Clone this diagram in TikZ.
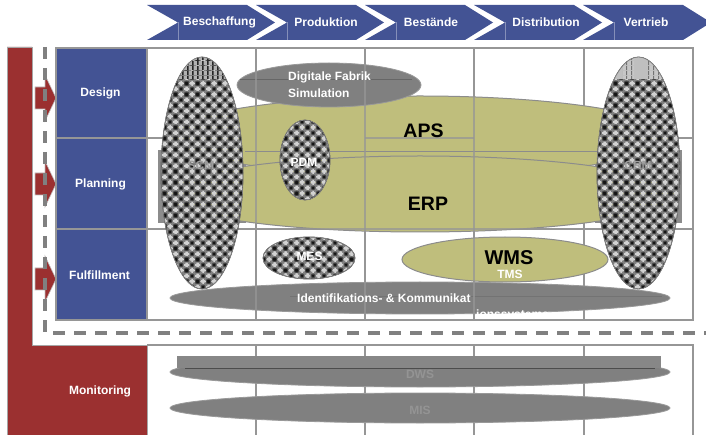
\documentclass[tikz,border=0pt]{standalone}
\usepackage{fontspec}
\setmainfont{Liberation Sans}
\usetikzlibrary{patterns}
\definecolor{cblue}{RGB}{67,83,148}
\definecolor{cred}{RGB}{155,48,48}
\definecolor{cyel}{RGB}{191,190,124}
\definecolor{gline}{RGB}{150,150,150}
\definecolor{gfill}{RGB}{128,128,128}
\definecolor{patbg}{RGB}{128,128,128}
\definecolor{pathalo}{RGB}{75,75,75}
\definecolor{patdark}{RGB}{20,20,20}
\definecolor{patlight}{RGB}{210,210,210}
\pgfdeclarepatterninherentlycolored{dotcross}{\pgfpointorigin}{\pgfpoint{11pt}{11pt}}{\pgfpoint{11pt}{11pt}}{%
  \pgfsetfillcolor{patbg}%
  \pgfpathrectangle{\pgfpointorigin}{\pgfpoint{11pt}{11pt}}\pgfusepath{fill}%
  \pgfsetfillcolor{patlight}%
  \pgfpathrectangle{\pgfpoint{3pt}{-0.9pt}}{\pgfpoint{5pt}{1.8pt}}%
  \pgfpathrectangle{\pgfpoint{4.6pt}{-2.5pt}}{\pgfpoint{1.8pt}{5pt}}%
  \pgfpathrectangle{\pgfpoint{3pt}{10.1pt}}{\pgfpoint{5pt}{1.8pt}}%
  \pgfpathrectangle{\pgfpoint{4.6pt}{8.5pt}}{\pgfpoint{1.8pt}{5pt}}%
  \pgfpathrectangle{\pgfpoint{-2.5pt}{4.6pt}}{\pgfpoint{5pt}{1.8pt}}%
  \pgfpathrectangle{\pgfpoint{-0.9pt}{3pt}}{\pgfpoint{1.8pt}{5pt}}%
  \pgfpathrectangle{\pgfpoint{8.5pt}{4.6pt}}{\pgfpoint{5pt}{1.8pt}}%
  \pgfpathrectangle{\pgfpoint{10.1pt}{3pt}}{\pgfpoint{1.8pt}{5pt}}%
  \pgfusepath{fill}%
  \pgfsetfillcolor{pathalo}%
  \pgfpathcircle{\pgfpoint{0pt}{0pt}}{2.6pt}\pgfpathcircle{\pgfpoint{11pt}{0pt}}{2.6pt}%
  \pgfpathcircle{\pgfpoint{0pt}{11pt}}{2.6pt}\pgfpathcircle{\pgfpoint{11pt}{11pt}}{2.6pt}%
  \pgfpathcircle{\pgfpoint{5.5pt}{5.5pt}}{2.6pt}\pgfusepath{fill}%
  \pgfsetfillcolor{patdark}%
  \pgfpathcircle{\pgfpoint{0pt}{0pt}}{1.6pt}\pgfpathcircle{\pgfpoint{11pt}{0pt}}{1.6pt}%
  \pgfpathcircle{\pgfpoint{0pt}{11pt}}{1.6pt}\pgfpathcircle{\pgfpoint{11pt}{11pt}}{1.6pt}%
  \pgfpathcircle{\pgfpoint{5.5pt}{5.5pt}}{1.6pt}\pgfusepath{fill}%
}
\pgfdeclarepatterninherentlycolored{vstripes}{\pgfpointorigin}{\pgfpoint{4.5pt}{4.5pt}}{\pgfpoint{4.5pt}{4.5pt}}{%
  \pgfsetfillcolor{black!30}%
  \pgfpathrectangle{\pgfpointorigin}{\pgfpoint{4.5pt}{4.5pt}}\pgfusepath{fill}%
  \pgfsetfillcolor{black!85}%
  \pgfpathrectangle{\pgfpointorigin}{\pgfpoint{1.8pt}{4.5pt}}\pgfusepath{fill}%
}
\pgfdeclarepatterninherentlycolored{lstripes}{\pgfpointorigin}{\pgfpoint{4.5pt}{4.5pt}}{\pgfpoint{4.5pt}{4.5pt}}{%
  \pgfsetfillcolor{black!22}%
  \pgfpathrectangle{\pgfpointorigin}{\pgfpoint{4.5pt}{4.5pt}}\pgfusepath{fill}%
  \pgfsetfillcolor{black!55}%
  \pgfpathrectangle{\pgfpointorigin}{\pgfpoint{1.3pt}{4.5pt}}\pgfusepath{fill}%
}
\begin{document}
\begin{tikzpicture}[x=1pt,y=-1pt,
  every node/.style={inner sep=0pt,font=\fontsize{12}{14}\selectfont\bfseries},
  wtext/.style={text=white},
  chev/.style={fill=cblue},
  gridl/.style={draw=gline,line width=1.1pt},
  bluebox/.style={fill=cblue,draw=gline,line width=2pt},
  redshape/.style={fill=cred,draw=black!35,line width=0.8pt},
  dashline/.style={draw=black!50,line width=3.5pt,dash pattern=on 12pt off 9pt},
  yshape/.style={fill=cyel,draw=black!45,line width=1pt},
  gshape/.style={fill=gfill,draw=black!40,line width=0.8pt},
  patshape/.style={pattern=dotcross},
  pato/.style={draw=black!50,line width=0.8pt},
  faint/.style={text=black!38},
  big/.style={font=\fontsize{19.5}{22}\selectfont\bfseries}]
\useasboundingbox (0,0) rectangle (706,435);
\fill[white] (0,0) rectangle (706,435);

% chevrons
\foreach \x in {147,256,365,474,583}{
  \fill[chev] (\x,5) -- ++(100,0) -- ++(28,17.5) -- ++(-28,17.5) -- ++(-100,0) -- ++(31,-17.5) -- cycle;
  \draw[cblue!65!white,line width=0.6pt] (\x+31,22.5) -- (\x+31,40);
}
\node[wtext] (c1) at (219.5,22) {Beschaffung};
\node[wtext] (c2) at (326,22) {Produktion};
\node[wtext] (c3) at (431,22) {Bestände};
\node[wtext] (c4) at (546,22) {Distribution};
\node[wtext] (c5) at (646,22) {Vertrieb};

% red L and arrows
\draw[redshape] (7,47) -- (32,47) -- (32,345) -- (147,345) -- (147,436) -- (7,436) -- cycle;
\foreach \c in {98,184,279}{
  \draw[fill=cred,draw=black!25,line width=0.6pt] (35,\c-11) -- (45,\c-11) -- (45,\c-23) -- (56,\c) -- (45,\c+23) -- (45,\c+11) -- (35,\c+11) -- cycle;
}
% dashed frame
\draw[dashline] (45,47) -- (45,333) -- (706,333);

% grids
\draw[gridl] (147,48) rectangle (693,320);
\foreach \x in {256,365,474,584}{\draw[gridl] (\x,48) -- (\x,320); \draw[gridl] (\x,345) -- (\x,436);}
\draw[gridl] (147,138) -- (693,138);
\draw[gridl] (147,229) -- (693,229);
\draw[gridl] (147,345) -- (693,345) -- (693,436);

% blue boxes
\draw[bluebox] (56,48) rectangle (147,138);
\draw[bluebox] (56,138) rectangle (147,229);
\draw[bluebox] (56,229) rectangle (147,320);
\node[wtext] (design) at (100.5,93) {Design};
\node[wtext] (planning) at (100.5,184) {Planning};
\node[wtext] (fulfil) at (99.5,275) {Fulfillment};
\node[wtext] (monit) at (100,391) {Monitoring};

% gray bands behind SCM / CRM
\fill[black!45] (158,150) rectangle (246,223);
\fill[black!45] (595,150) rectangle (682,223);

% yellow and gray shapes
\draw[yshape] (420,136) ellipse [x radius=250pt,y radius=40pt];
\draw[black!45,line width=1pt] (245,152) -- (598,152);
\draw[yshape] (420,194) ellipse [x radius=255pt,y radius=38pt];
\draw[gshape] (329,85) ellipse [x radius=92pt,y radius=22pt];
\draw[black!60,line width=0.7pt] (240,79) -- (412,79);
\draw[yshape] (505,259.5) ellipse [x radius=103pt,y radius=22.5pt];
\draw[gshape] (420,298) ellipse [x radius=250pt,y radius=16pt];
\draw[black!55,line width=0.7pt] (290,296) -- (662,296);

% grid seen through shapes
\begin{scope}[opacity=0.75]
\foreach \x in {256,365,474}{\draw[gridl] (\x,48) -- (\x,320);}
\draw[gridl] (365,138) -- (474,138);
\draw[gridl] (147,229) -- (693,229);
\end{scope}

% patterned ellipses
\draw[patshape] (202,173) ellipse [x radius=41pt,y radius=116pt];
\begin{scope}
  \clip (202,173) ellipse [x radius=41pt,y radius=116pt];
  \fill[pattern=vstripes] (150,50) rectangle (260,79);
\end{scope}
\draw[pato] (202,173) ellipse [x radius=41pt,y radius=116pt];

\draw[patshape] (638.5,173) ellipse [x radius=41.5pt,y radius=116pt];
\begin{scope}
  \clip (638.5,173) ellipse [x radius=41.5pt,y radius=116pt];
  \fill[black!25] (590,50) rectangle (690,79);
  \fill[pattern=lstripes] (622,50) rectangle (634,79);
  \fill[pattern=lstripes] (648,50) rectangle (662,79);
\end{scope}
\draw[pato] (638.5,173) ellipse [x radius=41.5pt,y radius=116pt];

\draw[patshape] (305,160) ellipse [x radius=25pt,y radius=40pt];
\draw[pato] (305,160) ellipse [x radius=25pt,y radius=40pt];
\draw[patshape] (309,258) ellipse [x radius=46pt,y radius=21pt];
\draw[pato] (309,258) ellipse [x radius=46pt,y radius=21pt];

% labels in top area
\node[faint] (scm) at (201,165) {SCM};
\node[faint] (crm) at (638,165) {CRM};
\node[wtext,anchor=west] (df1) at (288,77) {Digitale Fabrik};
\node[wtext,anchor=west] (df2) at (288,93) {Simulation};
\node[big] (aps) at (423.5,131) {APS};
\node[big] (erp) at (428,204) {ERP};
\node[wtext] (pdm) at (304,162) {PDM};
\node[wtext] (mes) at (309.5,256) {MES};
\node[font=\fontsize{20}{22}\selectfont\bfseries] (wms) at (509,258) {WMS};
\node[wtext] (tms) at (510,274.5) {TMS};
\node[wtext,anchor=west] (ik1) at (297,298) {Identifikations- \& Kommunikat};
\begin{scope}
  \clip (300,300) rectangle (700,318);
  \node[wtext,anchor=west] (ik2) at (476,315) {ionssysteme};
\end{scope}

% monitoring shapes
\draw[gshape] (420,372) ellipse [x radius=250pt,y radius=15pt];
\fill[black!47] (177,356) rectangle (661,368);
\draw[black!70,line width=0.7pt] (185,368) -- (655,368);
\draw[gshape] (420,408) ellipse [x radius=250pt,y radius=15pt];
\node[text=black!42] (dws) at (420,374) {DWS};
\node[text=black!42] (mis) at (420,410) {MIS};
\end{tikzpicture}
\end{document}
